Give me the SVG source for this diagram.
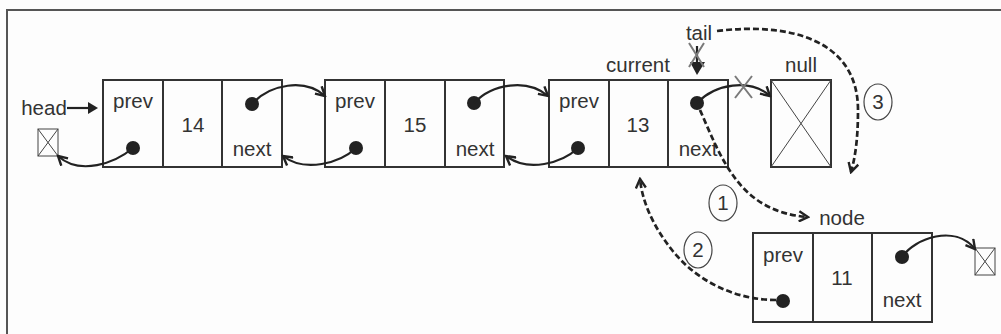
<svg xmlns="http://www.w3.org/2000/svg" width="1001" height="334" viewBox="0 0 1001 334">
  <style>
    .cell { fill: none; stroke: #333; stroke-width: 2; }
    .thin { fill: none; stroke: #444; stroke-width: 1; }
    .lbl { font-family: "Liberation Sans", Arial, sans-serif; font-size: 20.5px; fill: #333; text-anchor: middle; }
    .link { fill: none; stroke: #222; stroke-width: 2.2; marker-end: url(#chev); }
    .step { fill: none; stroke: #222; stroke-width: 2.7; stroke-dasharray: 6 3; marker-end: url(#chev); }
    .cross { stroke: #7a7a7a; stroke-width: 2; }
    .dot { fill: #222; }
    .badge { fill: none; stroke: #444; stroke-width: 1.2; }
  </style>
  <defs>
    <marker id="chev" viewBox="0 0 12 12" refX="10" refY="6" markerWidth="12" markerHeight="12" markerUnits="userSpaceOnUse" orient="auto">
      <path d="M1,1 L10,6 L1,11" fill="none" stroke="#222" stroke-width="2.4"/>
    </marker>
  </defs>

  <rect width="1001" height="334" fill="#fdfdfd"/>
  <!-- frame: top and left rules -->
  <path d="M7,334 L7,10 L1001,10" fill="none" stroke="#555" stroke-width="2"/>

  <!-- head pointer and its null terminator -->
  <g id="head">
    <text class="lbl" x="44" y="115">head</text>
    <line x1="67" y1="108" x2="90" y2="108" stroke="#222" stroke-width="2.2"/>
    <polygon points="88,102 98,108 88,114" fill="#222"/>
    <rect class="thin" x="38" y="129" width="20" height="27"/>
    <path class="thin" d="M38,129 L58,156 M58,129 L38,156"/>
  </g>

  <g id="node14">
    <rect class="cell" x="103" y="80" width="179" height="87"/>
    <line class="cell" x1="163" y1="80" x2="163" y2="167"/>
    <line class="cell" x1="222" y1="80" x2="222" y2="167"/>
    <text class="lbl" x="133" y="108">prev</text>
    <text class="lbl" x="193" y="132">14</text>
    <text class="lbl" x="252" y="156">next</text>
    <circle class="dot" cx="252" cy="104" r="7"/>
    <circle class="dot" cx="133" cy="148" r="7"/>
  </g>

  <g id="node15">
    <rect class="cell" x="325" y="80" width="179" height="87"/>
    <line class="cell" x1="385" y1="80" x2="385" y2="167"/>
    <line class="cell" x1="445" y1="80" x2="445" y2="167"/>
    <text class="lbl" x="355" y="108">prev</text>
    <text class="lbl" x="415" y="132">15</text>
    <text class="lbl" x="475" y="156">next</text>
    <circle class="dot" cx="474" cy="103" r="7"/>
    <circle class="dot" cx="356" cy="148" r="7"/>
  </g>

  <g id="node13">
    <text class="lbl" x="638" y="72">current</text>
    <rect class="cell" x="549" y="80" width="179" height="87"/>
    <line class="cell" x1="609" y1="80" x2="609" y2="167"/>
    <line class="cell" x1="668" y1="80" x2="668" y2="167"/>
    <text class="lbl" x="579" y="108">prev</text>
    <text class="lbl" x="638" y="132">13</text>
    <text class="lbl" x="698" y="156">next</text>
    <circle class="dot" cx="697" cy="103" r="7"/>
    <circle class="dot" cx="578" cy="148" r="7"/>
  </g>

  <g id="null">
    <text class="lbl" x="801" y="72">null</text>
    <rect class="cell" x="771" y="80" width="60" height="87"/>
    <path class="thin" d="M771,80 L831,167 M831,80 L771,167"/>
  </g>

  <g id="tail">
    <text class="lbl" x="699" y="40">tail</text>
    <line x1="697" y1="46" x2="697" y2="64" stroke="#222" stroke-width="2.2"/>
    <polygon points="690,62 705,62 697,75" fill="#222"/>
    <path class="cross" d="M689,43 L704,67 M704,43 L689,67"/>
  </g>

  <g id="node11">
    <text class="lbl" x="842" y="225">node</text>
    <rect class="cell" x="753" y="233" width="179" height="89"/>
    <line class="cell" x1="813" y1="233" x2="813" y2="322"/>
    <line class="cell" x1="872" y1="233" x2="872" y2="322"/>
    <text class="lbl" x="783" y="262">prev</text>
    <text class="lbl" x="842" y="285">11</text>
    <text class="lbl" x="902" y="307">next</text>
    <circle class="dot" cx="902" cy="257" r="7"/>
    <circle class="dot" cx="783" cy="301" r="7"/>
    <rect class="thin" x="975" y="248" width="20" height="27"/>
    <path class="thin" d="M975,248 L995,275 M995,248 L975,275"/>
  </g>

  <g id="steps">
    <ellipse class="badge" cx="723" cy="203" rx="14" ry="18"/>
    <text class="lbl" x="723" y="210">1</text>
    <ellipse class="badge" cx="698" cy="250" rx="14" ry="18"/>
    <text class="lbl" x="698" y="257">2</text>
    <ellipse class="badge" cx="878" cy="102" rx="14" ry="18"/>
    <text class="lbl" x="878" y="109">3</text>
  </g>

  <g id="connectors">
    <!-- next links -->
    <path class="link" d="M252,104 C270,84 305,78 325,96"/>
    <path class="link" d="M474,103 C492,84 527,78 548,96"/>
    <path class="link" d="M697,103 C715,84 750,78 770,96"/>
    <path class="link" d="M902,257 C915,238 955,224 975,249"/>
    <!-- prev links -->
    <path class="link" d="M356,148 C340,163 305,173 283,156"/>
    <path class="link" d="M578,148 C562,163 528,173 506,156"/>
    <path class="link" d="M133,148 C115,163 80,176 58,156"/>
    <!-- the old next link is cut -->
    <path class="cross" d="M735,76 L752,98 M752,76 L735,98"/>
    <!-- insertion steps -->
    <path class="step" d="M700,110 C722,160 740,212 808,217"/>
    <path class="step" d="M776,300 C740,300 700,285 672,250 C652,225 642,200 640,179"/>
    <path class="step" d="M717,31 C790,22 858,40 858,110 C858,140 855,158 851,172"/>
  </g>
</svg>
